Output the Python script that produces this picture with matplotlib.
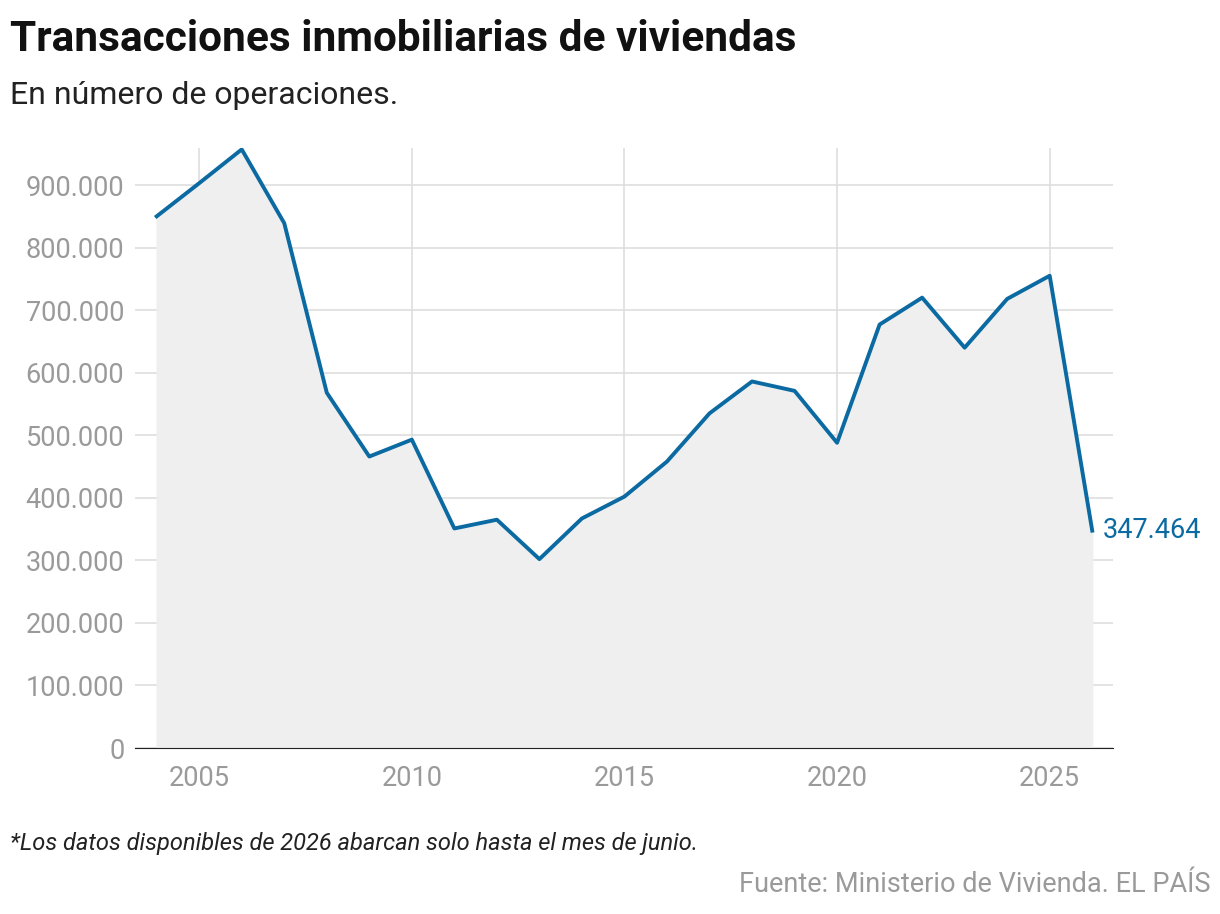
import matplotlib
matplotlib.use("Agg")
import matplotlib.pyplot as plt

plt.rcParams["font.family"] = ["Roboto", "DejaVu Sans"]

years = list(range(2004, 2027))
values = [850000, 903000, 957000, 839000, 568000, 466000, 493000, 351000, 365000,
          302000, 367000, 402000, 458000, 535000, 586000, 571000, 488000, 677000,
          720000, 640000, 718000, 755000, 347464]
x_ticks = [2005, 2010, 2015, 2020, 2025]
y_ticks = [0, 100000, 200000, 300000, 400000, 500000, 600000, 700000, 800000, 900000]

blue = "#0b6aa2"
gray = "#9a9a9a"

fig = plt.figure(figsize=(12.2, 9.14), dpi=100)
ax = fig.add_axes([0.111, 0.1816, 0.801, 0.657])
ax.fill_between(years, values, 0, color="#efefef", zorder=1)
ax.plot(years, values, color=blue, lw=2.8, zorder=3)
ax.set_xlim(2003.5, 2026.48)
ax.set_ylim(0, 960000)
ax.set_xticks(x_ticks)
ax.set_yticks(y_ticks)
ax.set_yticklabels([f"{v:,}".replace(",", ".") for v in y_ticks])
ax.grid(True, color="#dedede", lw=1.2, zorder=0)
ax.set_axisbelow(True)
for s in ["top", "right", "left"]:
    ax.spines[s].set_visible(False)
ax.spines["bottom"].set_color("#222222")
ax.tick_params(length=0, labelsize=19.5, labelcolor=gray, pad=8)
ax.tick_params(axis="x", pad=12)
ax.text(2026.25, values[-1], "347.464", color=blue, fontsize=19.5, va="center", ha="left")

fig.text(0.008, 0.957, "Transacciones inmobiliarias de viviendas", fontsize=30.5,
         fontweight="bold", color="#111111", va="center")
fig.text(0.008, 0.896, "En número de operaciones.", fontsize=23, color="#222222", va="center")
fig.text(0.008, 0.077, "*Los datos disponibles de 2026 abarcan solo hasta el mes de junio.",
         fontsize=17, style="italic", color="#222222", va="center")
fig.text(0.992, 0.032, "Fuente: Ministerio de Vivienda. EL PAÍS", fontsize=19.5,
         color=gray, ha="right", va="center")
fig.savefig("out.png", dpi=100)
